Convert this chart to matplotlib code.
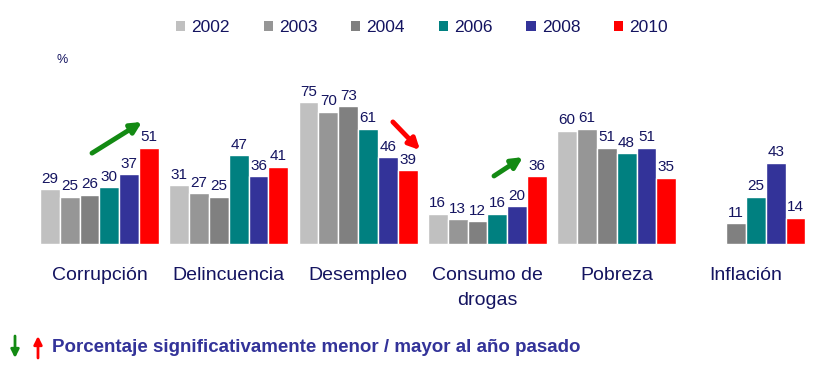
import matplotlib
matplotlib.use("Agg")
import matplotlib.pyplot as plt
import numpy as np

categories = ["Corrupción", "Delincuencia", "Desempleo", "Consumo de\ndrogas", "Pobreza", "Inflación"]
years = ["2002", "2003", "2004", "2006", "2008", "2010"]
values = {
    "2002": [29, 31, 75, 16, 60, None],
    "2003": [25, 27, 70, 13, 61, None],
    "2004": [26, 25, 73, 12, 51, 11],
    "2006": [30, 47, 61, 16, 48, 25],
    "2008": [37, 36, 46, 20, 51, 43],
    "2010": [51, 41, 39, 36, 35, 14],
}
colors = ["#C0C0C0", "#969696", "#808080", "#008080", "#333399", "#FF0000"]

NAVY = "#141460"
plt.rcParams['font.family'] = ['Liberation Sans', 'DejaVu Sans']

fig = plt.figure(figsize=(8.19, 3.83), dpi=100)
ax = fig.add_axes([0, 0, 1, 1])
ax.set_xlim(-0.7695, 5.5646)
ax.set_ylim(-73.5, 129.1)
ax.axis('off')

w = 0.1532
x = np.arange(len(categories))
handles = []
for j, yr in enumerate(years):
    vals = values[yr]
    xs = [x[i] + (j - 2.5) * w for i in range(len(vals)) if vals[i] is not None]
    hs = [v for v in vals if v is not None]
    bars = ax.bar(xs, hs, width=w, color=colors[j], edgecolor='white', linewidth=1, label=yr)
    ax.bar_label(bars, labels=[str(v) for v in hs], padding=2.5, fontsize=11, color=NAVY)
    handles.append(bars)

for i, cat in enumerate(categories):
    lines = cat.split('\n')
    for k, line in enumerate(lines):
        ax.text(x[i], -16.4 - 13.2 * k, line, ha='center', va='center', fontsize=14, color=NAVY)

# trend arrows
arrows = [((-0.058, 48.1), (0.329, 64.6), '#138A13'),
          ((2.269, 64.6), (2.479, 49.7), '#FF0000'),
          ((3.051, 36.0), (3.275, 46.0), '#138A13')]
for (x0, y0), (x1, y1), c in arrows:
    ax.annotate('', xy=(x1, y1), xytext=(x0, y0),
                arrowprops=dict(arrowstyle='-|>', color=c, lw=3.5, mutation_scale=16,
                                shrinkA=0, shrinkB=0))

fig.text(62 / 819, 1 - 60 / 383, '%', fontsize=9, color=NAVY, ha='center', va='center')

leg = ax.legend(handles=handles, labels=years, ncol=6, loc='center',
                bbox_to_anchor=(422 / 819, 1 - 28 / 383), bbox_transform=fig.transFigure,
                frameon=False, fontsize=12.5, handlelength=0.53, handleheight=0.53,
                handletextpad=0.35, columnspacing=1.95, labelcolor=NAVY)
for h in leg.legend_handles:
    h.set_edgecolor('none')

# footer
ax.annotate('', xy=(15, 25), xytext=(15, 47), xycoords='figure pixels', textcoords='figure pixels',
            arrowprops=dict(arrowstyle='-|>', color='#138A13', lw=2, mutation_scale=12, shrinkA=0, shrinkB=0))
ax.annotate('', xy=(38, 47), xytext=(38, 25), xycoords='figure pixels', textcoords='figure pixels',
            arrowprops=dict(arrowstyle='-|>', color='#FF0000', lw=2, mutation_scale=12, shrinkA=0, shrinkB=0))
fig.text(52 / 819, 1 - 348 / 383, 'Porcentaje significativamente menor / mayor al año pasado',
         fontsize=13.5, fontweight='bold', color='#333399', ha='left', va='center')

fig.savefig('out.png', dpi=100)
